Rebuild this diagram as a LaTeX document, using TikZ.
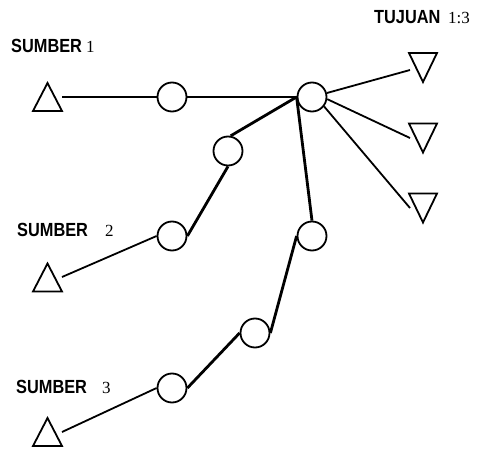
\documentclass[tikz,border=0pt]{standalone}
\usepackage{fontspec}
\newfontfamily\labfont[FakeStretch=0.86]{Liberation Sans}
\newfontfamily\digfont{Liberation Serif}
\tikzset{
  circ/.style={circle,draw,line width=1.8pt,minimum size=29pt,inner sep=0pt,fill=white},
  tri/.style={line width=1.8pt,line join=miter},
  thinline/.style={line width=1.8pt},
  thickline/.style={line width=2.8pt},
  lab/.style={anchor=base west,inner sep=0pt,font=\labfont\bfseries\fontsize{19}{21}\selectfont},
  dig/.style={anchor=base west,inner sep=0pt,font=\digfont\fontsize{17}{20}\selectfont}
}
\begin{document}
\begin{tikzpicture}[x=1pt,y=-1pt]
\useasboundingbox (0,0) rectangle (483,450);
% source triangles
\coordinate (S1) at (47.5,97);
\coordinate (S2) at (47.5,277.5);
\coordinate (S3) at (47.5,432);
\foreach \s in {S1,S2,S3}{
  \draw[tri,shift={(\s)}] (0,-14) -- (-14.5,14) -- (14.5,14) -- cycle;
}
% destination triangles
\coordinate (D1) at (423,67.5);
\coordinate (D2) at (423,138);
\coordinate (D3) at (423,208);
\foreach \d in {D1,D2,D3}{
  \draw[tri,shift={(\d)}] (0,14.5) -- (-14,-14.5) -- (14,-14.5) -- cycle;
}
% connector ends at triangles
\coordinate (S1c) at (62,97);
\coordinate (S2c) at (62,277);
\coordinate (S3c) at (62,432);
\coordinate (D1c) at (410,70);
\coordinate (D2c) at (410,138);
\coordinate (D3c) at (410,208);
% circles
\node[circ] (C1) at (172,97) {};
\node[circ] (H) at (312,97) {};
\node[circ] (C2a) at (228,151) {};
\node[circ] (C2b) at (172,236) {};
\node[circ] (C3a) at (312,236) {};
\node[circ] (C3b) at (255,333) {};
\node[circ] (C3c) at (172,388) {};
% connectors
\draw[thinline] (S1c) -- (C1.west);
\draw[thickline] (C1.east) -- (H.west);
\draw[thickline] (H.west) -- (C2a.80);
\draw[thickline] (H.west) -- (C3a.north);
\draw[thinline] (H.15) -- (D1c);
\draw[thinline] (H.-8) -- (D2c);
\draw[thinline] (H.-38) -- (D3c);
\draw[thickline] (C2a.south) -- (C2b.east);
\draw[thinline] (C2b.west) -- (S2c);
\draw[thickline] (C3a.west) -- (C3b.east);
\draw[thickline] (C3b.west) -- (C3c.east);
\draw[thinline] (C3c.west) -- (S3c);
% labels
\node[lab] (L1) at (11,52) {SUMBER};
\node[dig] (L1n) at (86,52) {1};
\node[lab] (L2) at (17,236) {SUMBER};
\node[dig] (L2n) at (105,236) {2};
\node[lab] (L3) at (16,393) {SUMBER};
\node[dig] (L3n) at (102,393) {3};
\node[lab] (LT) at (374,23) {TUJUAN};
\node[dig] (LTn) at (448,23) {1:3};
\end{tikzpicture}
\end{document}
